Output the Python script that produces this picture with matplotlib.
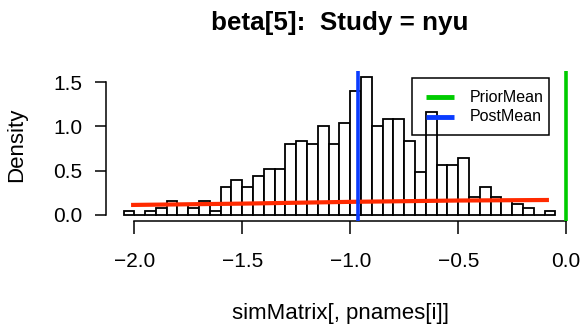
# posterior histogram for beta[5] with prior curve and mean markers
import numpy as np
import matplotlib
matplotlib.use('Agg')
import matplotlib.pyplot as plt
from matplotlib.lines import Line2D
from matplotlib.patches import Rectangle

plt.rcParams['font.family'] = ['Liberation Sans', 'DejaVu Sans']

# histogram breaks (width 0.05) and density per bin
breaks = np.round(np.linspace(-2.05, -0.05, 41), 2)
density = [0.04, 0.00, 0.04, 0.08, 0.16, 0.12, 0.08, 0.16, 0.04, 0.32,
           0.40, 0.32, 0.44, 0.52, 0.52, 0.80, 0.84, 0.80, 1.00, 0.80,
           1.04, 1.40, 1.56, 1.00, 1.08, 1.08, 0.84, 0.48, 1.16, 0.56,
           0.56, 0.64, 0.20, 0.32, 0.20, 0.16, 0.12, 0.08, 0.00, 0.04]

# prior density curve
prior_x = [-2.015, -1.5, -1.0, -0.5, -0.08]
prior_y = [0.113, 0.128, 0.148, 0.163, 0.169]

prior_mean = 0.0
post_mean = -0.963

W, H = 582, 328
fig = plt.figure(figsize=(W / 100, H / 100), dpi=100)

def px(x, y):
    return x / W, 1 - y / H

left, top = px(105.8, 71.4)
right, bottom = px(574, 220.5)
ax = fig.add_axes([left, bottom, right - left, top - bottom])

ax.bar(breaks[:-1], density, width=0.05, align='edge',
       facecolor='white', edgecolor='black', linewidth=1.3, zorder=2)
ax.plot(prior_x, prior_y, color='#ff2a00', lw=3, solid_capstyle='butt', zorder=3)
ax.axvline(post_mean, color='#0a3cff', lw=2.6, zorder=4)
ax.axvline(prior_mean, color='#00cc00', lw=2.6, zorder=4)

ax.set_xlim(-2.132, 0.036)
ax.set_ylim(-0.0624, 1.62)

for s in ['top', 'right']:
    ax.spines[s].set_visible(False)
ax.spines['left'].set_bounds(0, 1.5)
ax.spines['bottom'].set_bounds(-2.0, 0.0)
ax.spines['left'].set_linewidth(1.1)
ax.spines['bottom'].set_linewidth(1.1)

ax.set_xticks([-2.0, -1.5, -1.0, -0.5, 0.0])
ax.set_xticklabels(['\u22122.0', '\u22121.5', '\u22121.0', '\u22120.5', '0.0'])
ax.set_yticks([0.0, 0.5, 1.0, 1.5])
ax.set_yticklabels(['0.0', '0.5', '1.0', '1.5'])
ax.tick_params(axis='x', length=9, width=1.1, pad=14, labelsize=15)
ax.tick_params(axis='y', length=8, width=1.1, pad=9, labelsize=15)

fig.text(*px(17, 145), 'Density', rotation=90, ha='center', va='center', fontsize=16)
fig.text(*px(340, 319), 'simMatrix[, pnames[i]]', ha='center', va='baseline', fontsize=16)
fig.text(*px(340, 30), 'beta[5]:  Study = nyu', ha='center', va='baseline',
         fontsize=18.7, fontweight='bold')

# legend box
bx0, by0 = px(411.7, 135)
bx1, by1 = px(549.3, 78.3)
fig.add_artist(Rectangle((bx0, by0), bx1 - bx0, by1 - by0, transform=fig.transFigure,
                         facecolor='none', edgecolor='black', lw=1.1))
for label, col, yy in [('PriorMean', '#00cc00', 97.3), ('PostMean', '#0a3cff', 116.7)]:
    x0, y0 = px(426, yy)
    x1, _ = px(454.3, yy)
    fig.add_artist(Line2D([x0, x1], [y0, y0], transform=fig.transFigure,
                          color=col, lw=3.5, solid_capstyle='butt'))
    fig.text(*px(469.3, yy), label, ha='left', va='center', fontsize=11.5)

fig.savefig('out.png', dpi=100)
